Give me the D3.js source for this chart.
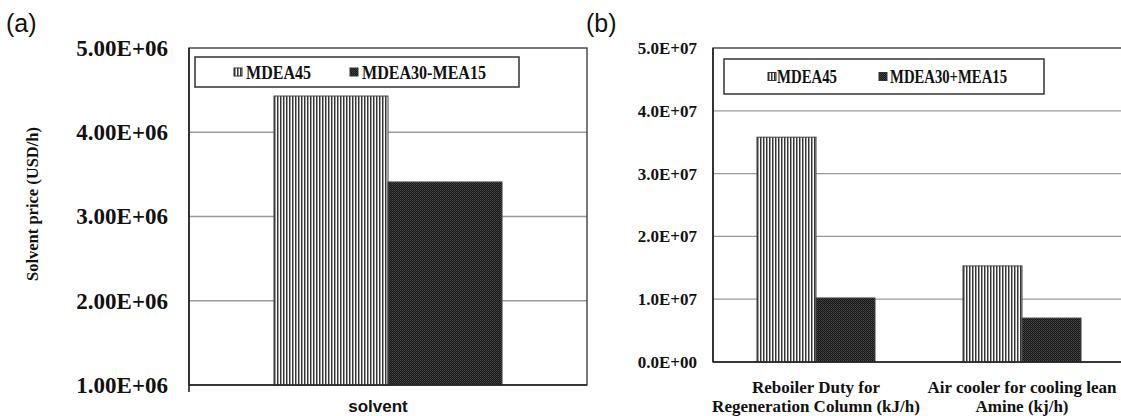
<!DOCTYPE html>
<html>
<head>
<meta charset="utf-8">
<script src="https://cdn.jsdelivr.net/npm/d3@7"></script>
<style>
  html, body { margin: 0; padding: 0; background: #fff; }
  svg { display: block; }
</style>
</head>
<body>
<svg id="chart" width="1121" height="416"></svg>
<script>
// ---------------- data ----------------
const categoriesA = ["solvent"];
const seriesA = ["MDEA45", "MDEA30-MEA15"];
const valuesA_MDEA45 = [4.43e6];
const valuesA_Blend = [3.41e6];
const yTicksA = [1e6, 2e6, 3e6, 4e6, 5e6];
const yTitleA = "Solvent price (USD/h)";

const categoriesB = [
  ["Reboiler Duty for", "Regeneration Column (kJ/h)"],
  ["Air cooler for cooling lean", "Amine (kj/h)"]
];
const seriesB = ["MDEA45", "MDEA30+MEA15"];
const valuesB_MDEA45 = [3.58e7, 1.53e7];
const valuesB_Blend = [1.02e7, 0.70e7];
const yTicksB = [0, 1e7, 2e7, 3e7, 4e7, 5e7];

// ---------------- helpers ----------------
const SERIF = "'Liberation Serif','Times New Roman',Times,serif";
const SANS = "'Liberation Sans',Arial,Helvetica,sans-serif";
function fmtE(digits) {
  return v => {
    const [m, e] = v.toExponential(digits).split("e");
    const ev = +e;
    return m + "E" + (ev < 0 ? "-" : "+") + String(Math.abs(ev)).padStart(2, "0");
  };
}

const svg = d3.select("#chart");
const defs = svg.append("defs");

// vertical stripe pattern
const pStripe = defs.append("pattern").attr("id", "stripes")
  .attr("patternUnits", "userSpaceOnUse").attr("width", 3).attr("height", 3);
pStripe.append("rect").attr("width", 3).attr("height", 3).attr("fill", "#fff");
pStripe.append("rect").attr("x", 0).attr("width", 1.5).attr("height", 3).attr("fill", "#333");

// dark checker pattern
const pDark = defs.append("pattern").attr("id", "dark")
  .attr("patternUnits", "userSpaceOnUse").attr("width", 2).attr("height", 2);
pDark.append("rect").attr("width", 2).attr("height", 2).attr("fill", "#141414");
pDark.append("rect").attr("x", 0).attr("y", 0).attr("width", 1).attr("height", 1).attr("fill", "#4a4a4a");
pDark.append("rect").attr("x", 1).attr("y", 1).attr("width", 1).attr("height", 1).attr("fill", "#3a3a3a");

const fills = ["url(#stripes)", "url(#dark)"];

function panel(opts) {
  const { left, right, top, bottom, yDomain, yTicks, fmt, tickFont, tickPad,
          cats, series, vals, legend } = opts;
  const g = svg.append("g");
  const y = d3.scaleLinear().domain(yDomain).range([bottom, top]);
  const x0 = d3.scaleBand().domain(d3.range(cats.length))
    .range([left, right]).paddingInner(0.427).paddingOuter(0.2135);
  const x1 = d3.scaleBand().domain(series).range([0, x0.bandwidth()]).padding(0);

  // gridlines
  g.append("g").selectAll("line").data(yTicks.slice(1, -1)).join("line")
    .attr("x1", left).attr("x2", right)
    .attr("y1", d => y(d)).attr("y2", d => y(d))
    .attr("stroke", "#9a9a9a").attr("stroke-width", 1.3);

  // frame
  g.append("rect").attr("x", left).attr("y", y(yDomain[1]))
    .attr("width", right - left).attr("height", y(yDomain[0]) - y(yDomain[1]))
    .attr("fill", "none").attr("stroke", "#333").attr("stroke-width", 1.3);

  // bars
  const groups = g.append("g").selectAll("g").data(cats).join("g")
    .attr("transform", (d, i) => `translate(${x0(i)},0)`);
  series.forEach((s, si) => {
    groups.append("rect")
      .attr("x", x1(s))
      .attr("y", (d, i) => y(vals[si][i]))
      .attr("width", x1.bandwidth())
      .attr("height", (d, i) => y(yDomain[0]) - y(vals[si][i]))
      .attr("fill", fills[si])
      .attr("stroke", "#444").attr("stroke-width", 1);
  });

  // axes lines
  g.append("line").attr("x1", left).attr("x2", right)
    .attr("y1", bottom).attr("y2", bottom).attr("stroke", "#222").attr("stroke-width", 1.6);
  g.append("line").attr("x1", left).attr("x2", left)
    .attr("y1", top).attr("y2", bottom + (opts.tickBelow || 0))
    .attr("stroke", "#222").attr("stroke-width", 1.6);

  // y axis labels
  const ax = g.append("g").attr("transform", `translate(${left},0)`)
    .call(d3.axisLeft(y).tickValues(yTicks).tickFormat(fmt).tickSize(0).tickPadding(tickPad));
  ax.select(".domain").remove();
  ax.selectAll("text").attr("font-family", SERIF).attr("font-weight", "bold")
    .attr("font-size", tickFont).attr("fill", "#111");

  // legend
  const lg = g.append("g");
  lg.append("rect").attr("x", legend.x).attr("y", legend.y)
    .attr("width", legend.w).attr("height", legend.h)
    .attr("fill", "#fff").attr("stroke", "#333").attr("stroke-width", 1.5);
  series.forEach((s, si) => {
    const it = legend.items[si];
    lg.append("rect").attr("x", it.sx).attr("y", legend.y + legend.h / 2 - 4)
      .attr("width", 8).attr("height", 8)
      .attr("fill", fills[si]).attr("stroke", "#333").attr("stroke-width", 1);
    lg.append("text").attr("x", it.tx).attr("y", legend.y + legend.h / 2 + 6.5)
      .attr("font-family", SERIF).attr("font-weight", "bold")
      .attr("font-size", legend.font).attr("fill", "#111")
      .attr("textLength", it.len).attr("lengthAdjust", "spacingAndGlyphs")
      .text(s);
  });

  return { g, x0, y };
}

// ---------------- panel (a) ----------------
const A = panel({
  left: 189, right: 587, top: 48, bottom: 385,
  yDomain: [1e6, 5e6], yTicks: yTicksA, fmt: fmtE(2), tickFont: 23, tickPad: 21,
  cats: categoriesA, series: seriesA, vals: [valuesA_MDEA45, valuesA_Blend],
  tickBelow: 7,
  legend: { x: 195, y: 57, w: 324, h: 30, font: 18.5,
    items: [{ sx: 234, tx: 246, len: 65 }, { sx: 350, tx: 362, len: 124 }] }
});
A.g.append("g").selectAll("text").data(categoriesA).join("text")
  .attr("x", (d, i) => A.x0(i) + A.x0.bandwidth() / 2 - 10)
  .attr("y", 412).attr("text-anchor", "middle")
  .attr("font-family", SANS).attr("font-weight", "bold").attr("font-size", 17)
  .attr("fill", "#111").text(d => d);
A.g.append("text").attr("transform", "translate(38,204) rotate(-90)")
  .attr("text-anchor", "middle").attr("font-family", SERIF).attr("font-weight", "bold")
  .attr("font-size", 16.5).attr("fill", "#111").text(yTitleA);

// ---------------- panel (b) ----------------
const B = panel({
  left: 713, right: 1125, top: 48, bottom: 362,
  yDomain: [0, 5e7], yTicks: yTicksB, fmt: fmtE(1), tickFont: 17, tickPad: 16,
  cats: categoriesB, series: seriesB, vals: [valuesB_MDEA45, valuesB_Blend],
  legend: { x: 724, y: 59, w: 320, h: 35, font: 18,
    items: [{ sx: 768, tx: 777, len: 60 }, { sx: 879, tx: 890, len: 117 }] }
});
const catG = B.g.append("g").selectAll("text").data(categoriesB).join("text")
  .attr("x", (d, i) => B.x0(i) + B.x0.bandwidth() / 2)
  .attr("y", 393).attr("text-anchor", "middle")
  .attr("font-family", SERIF).attr("font-weight", "bold").attr("font-size", 17)
  .attr("fill", "#111");
catG.selectAll("tspan").data(d => d).join("tspan")
  .attr("x", function () { return d3.select(this.parentNode).attr("x"); })
  .attr("dy", (d, i) => i === 0 ? 0 : 19)
  .text(d => d);

// panel labels
svg.append("text").attr("x", 6).attr("y", 32).attr("font-family", SANS)
  .attr("font-size", 25).attr("fill", "#111").text("(a)");
svg.append("text").attr("x", 586).attr("y", 32).attr("font-family", SANS)
  .attr("font-size", 25).attr("fill", "#111").text("(b)");
</script>
</body>
</html>
